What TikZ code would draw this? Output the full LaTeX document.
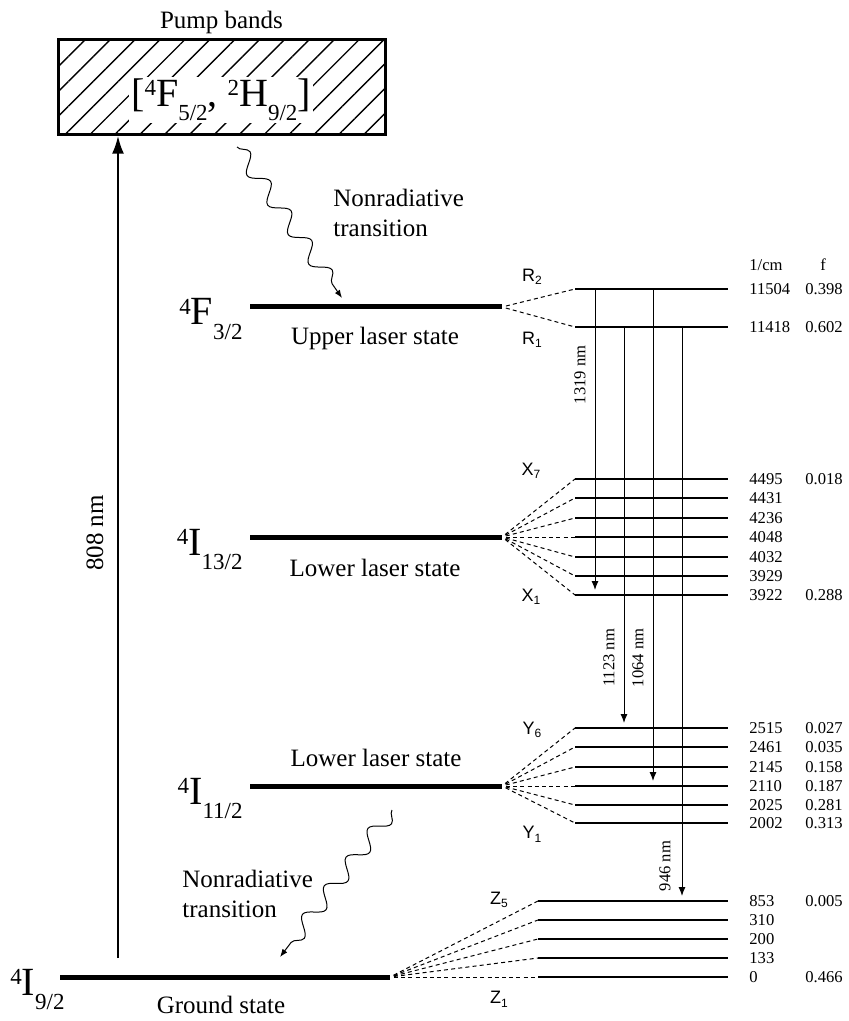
\documentclass[tikz,border=0pt]{standalone}
\usepackage{fontspec}
\setmainfont{Liberation Serif}
\newfontfamily\sublabelfont{Liberation Sans}
\usetikzlibrary{arrows.meta,positioning,patterns.meta,decorations.pathmorphing}
\newcommand\termsym[3]{\raisebox{5.5pt}{\fontsize{11.5}{12}\selectfont #1}#2\raisebox{-7pt}{\fontsize{11.5}{12}\selectfont #3}}
\newcommand\sublab[2]{#1\raisebox{-1.8pt}{\fontsize{6}{7}\selectfont #2}}
\tikzset{
  termline/.style={line width=2.5pt},
  sublevel/.style={line width=0.8pt},
  fan/.style={line width=0.5pt, dash pattern=on 2pt off 1.6pt, shorten <=2pt},
  trans/.style={-{Latex[length=4.5pt,width=3.5pt]}, line width=0.5pt, shorten >=2.5pt},
  pumparrow/.style={-{Latex[length=9pt,width=6pt]}, line width=1.2pt},
  nonrad/.style={
    -{Latex[length=4pt,width=3pt]}, line width=0.5pt, decorate,
    decoration={snake, amplitude=4pt, segment length=18pt, post length=4pt}
  },
  pumpbox/.style={
    draw, line width=1.5pt, inner sep=0pt,
    pattern={Lines[angle=45,distance=8.8pt,line width=0.7pt]},
    minimum width=163.5pt, minimum height=47.5pt
  },
  term/.style={font=\fontsize{20}{24}\selectfont, anchor=base east, inner sep=0pt},
  statetxt/.style={font=\fontsize{12.5}{15}\selectfont, inner sep=0pt},
  note/.style={font=\fontsize{12.5}{15}\selectfont, align=left, anchor=west, inner sep=0pt},
  sublabel/.style={font=\sublabelfont\fontsize{9}{10}\selectfont, inner sep=0pt},
  val/.style={font=\fontsize{8.3}{10}\selectfont, anchor=west, inner sep=0pt},
  wavelen/.style={font=\fontsize{8.3}{10}\selectfont, rotate=90, inner sep=0pt}
}
\begin{document}
\begin{tikzpicture}[x=0.5pt, y=-0.5pt]
\useasboundingbox (0,0) rectangle (848,1021);
% pump bands
\node[pumpbox] (pump) at (221.5,87.5) {};
\node[fill=white, inner sep=1pt, font=\fontsize{20}{24}\selectfont, anchor=base] (pumptxt) at (221,107) {[\termsym{4}{F}{5/2}, \termsym{2}{H}{9/2}]};
\node[statetxt, above=2.5pt of pump] (pumplbl) {Pump bands};
\coordinate (pumpfoot) at (118,958);
\draw[pumparrow] (pumpfoot) -- (pumpfoot |- pump.south);
\node[statetxt, rotate=90] (l808) at (95,533) {808 nm};
% manifolds
\coordinate (F32a) at (250,307); \coordinate (F32b) at (502,307);
\coordinate (I132a) at (250,537); \coordinate (I132b) at (502,537);
\coordinate (I112a) at (250,786); \coordinate (I112b) at (502,786);
\coordinate (I92a) at (60,977); \coordinate (I92b) at (390,977);
\draw[termline] (F32a) -- (F32b);
\draw[termline] (I132a) -- (I132b);
\draw[termline] (I112a) -- (I112b);
\draw[termline] (I92a) -- (I92b);
\node[term] (tF32) at (243,325) {\termsym{4}{F}{3/2}};
\node[term] (tI132) at (243,555) {\termsym{4}{I}{13/2}};
\node[term] (tI112) at (243,804) {\termsym{4}{I}{11/2}};
\node[term] (tI92) at (65,995) {\termsym{4}{I}{9/2}};
\node[statetxt] (upper) at (375,338) {Upper laser state};
\node[statetxt] (lower1) at (375,568) {Lower laser state};
\node[statetxt] (lower2) at (376,758) {Lower laser state};
\node[statetxt] (ground) at (221,1005) {Ground state};
% nonradiative decays
\coordinate (w1a) at (237,147); \coordinate (w1b) at (342,298);
\coordinate (w2a) at (392,810); \coordinate (w2b) at (280,957);
\draw[nonrad] (w1a) -- (w1b);
\draw[nonrad] (w2a) -- (w2b);
\node[note] (nr1) at (333,213) {Nonradiative\\transition};
\node[note] (nr2) at (182,894) {Nonradiative\\transition};
% Stark sublevels
\coordinate (R2) at (575,289); \coordinate (R1) at (575,327);
\coordinate (X7) at (575,479); \coordinate (X6) at (575,498);
\coordinate (X5) at (575,518); \coordinate (X4) at (575,537);
\coordinate (X3) at (575,557); \coordinate (X2) at (575,576);
\coordinate (X1) at (575,595);
\coordinate (Y6) at (575,728); \coordinate (Y5) at (575,747);
\coordinate (Y4) at (575,767); \coordinate (Y3) at (575,786);
\coordinate (Y2) at (575,805); \coordinate (Y1) at (575,823);
\coordinate (Z5) at (538,901); \coordinate (Z4) at (538,920);
\coordinate (Z3) at (538,939); \coordinate (Z2) at (538,958);
\coordinate (Z1) at (538,977);
\draw[sublevel] (R2) -- ++(153,0); \draw[sublevel] (R1) -- ++(153,0);
\draw[sublevel] (X7) -- ++(153,0); \draw[sublevel] (X6) -- ++(153,0);
\draw[sublevel] (X5) -- ++(153,0); \draw[sublevel] (X4) -- ++(153,0);
\draw[sublevel] (X3) -- ++(153,0); \draw[sublevel] (X2) -- ++(153,0);
\draw[sublevel] (X1) -- ++(153,0);
\draw[sublevel] (Y6) -- ++(153,0); \draw[sublevel] (Y5) -- ++(153,0);
\draw[sublevel] (Y4) -- ++(153,0); \draw[sublevel] (Y3) -- ++(153,0);
\draw[sublevel] (Y2) -- ++(153,0); \draw[sublevel] (Y1) -- ++(153,0);
\draw[sublevel] (Z5) -- ++(190,0); \draw[sublevel] (Z4) -- ++(190,0);
\draw[sublevel] (Z3) -- ++(190,0); \draw[sublevel] (Z2) -- ++(190,0);
\draw[sublevel] (Z1) -- ++(190,0);
% splitting fans
\draw[fan] (F32b) -- (R2); \draw[fan] (F32b) -- (R1);
\draw[fan] (I132b) -- (X7); \draw[fan] (I132b) -- (X6);
\draw[fan] (I132b) -- (X5); \draw[fan] (I132b) -- (X4);
\draw[fan] (I132b) -- (X3); \draw[fan] (I132b) -- (X2);
\draw[fan] (I132b) -- (X1);
\draw[fan] (I112b) -- (Y6); \draw[fan] (I112b) -- (Y5);
\draw[fan] (I112b) -- (Y4); \draw[fan] (I112b) -- (Y3);
\draw[fan] (I112b) -- (Y2); \draw[fan] (I112b) -- (Y1);
\draw[fan] (I92b) -- (Z5); \draw[fan] (I92b) -- (Z4);
\draw[fan] (I92b) -- (Z3); \draw[fan] (I92b) -- (Z2);
\draw[fan] (I92b) -- (Z1);
\node[sublabel] (lR2) at (532,277) {\sublab{R}{2}};
\node[sublabel] (lR1) at (532,340) {\sublab{R}{1}};
\node[sublabel] (lX7) at (531,471) {\sublab{X}{7}};
\node[sublabel] (lX1) at (531,597) {\sublab{X}{1}};
\node[sublabel] (lY6) at (532,730) {\sublab{Y}{6}};
\node[sublabel] (lY1) at (532,834) {\sublab{Y}{1}};
\node[sublabel] (lZ5) at (499,900) {\sublab{Z}{5}};
\node[sublabel] (lZ1) at (499,999) {\sublab{Z}{1}};
% laser transitions
\coordinate (c1319) at (595,0); \coordinate (c1123) at (624,0);
\coordinate (c1064) at (653,0); \coordinate (c946) at (682,0);
\draw[trans] (R2 -| c1319) -- (X1 -| c1319);
\draw[trans] (R1 -| c1123) -- (Y6 -| c1123);
\draw[trans] (R2 -| c1064) -- (Y3 -| c1064);
\draw[trans] (R1 -| c946) -- (Z5 -| c946);
\node[wavelen] (l1319) at (580,375) {1319 nm};
\node[wavelen] (l1123) at (609,658) {1123 nm};
\node[wavelen] (l1064) at (638,658) {1064 nm};
\node[wavelen] (l946) at (665,866) {946 nm};
% energies and fractions
\node[val] (hcm) at (749,265) {1/cm};
\node[val, anchor=center] (hf) at (823,265) {f};
\node[val] (eR2) at (749,289) {11504}; \node[val] (fR2) at (805,289) {0.398};
\node[val] (eR1) at (749,327) {11418}; \node[val] (fR1) at (805,327) {0.602};
\node[val] (eX7) at (749,479) {4495}; \node[val] (fX7) at (805,479) {0.018};
\node[val] (eX6) at (749,498) {4431};
\node[val] (eX5) at (749,518) {4236};
\node[val] (eX4) at (749,537) {4048};
\node[val] (eX3) at (749,557) {4032};
\node[val] (eX2) at (749,576) {3929};
\node[val] (eX1) at (749,595) {3922}; \node[val] (fX1) at (805,595) {0.288};
\node[val] (eY6) at (749,728) {2515}; \node[val] (fY6) at (805,728) {0.027};
\node[val] (eY5) at (749,747) {2461}; \node[val] (fY5) at (805,747) {0.035};
\node[val] (eY4) at (749,767) {2145}; \node[val] (fY4) at (805,767) {0.158};
\node[val] (eY3) at (749,786) {2110}; \node[val] (fY3) at (805,786) {0.187};
\node[val] (eY2) at (749,805) {2025}; \node[val] (fY2) at (805,805) {0.281};
\node[val] (eY1) at (749,823) {2002}; \node[val] (fY1) at (805,823) {0.313};
\node[val] (eZ5) at (749,901) {853}; \node[val] (fZ5) at (805,901) {0.005};
\node[val] (eZ4) at (749,920) {310};
\node[val] (eZ3) at (749,939) {200};
\node[val] (eZ2) at (749,958) {133};
\node[val] (eZ1) at (749,977) {0}; \node[val] (fZ1) at (805,977) {0.466};
\end{tikzpicture}
\end{document}
